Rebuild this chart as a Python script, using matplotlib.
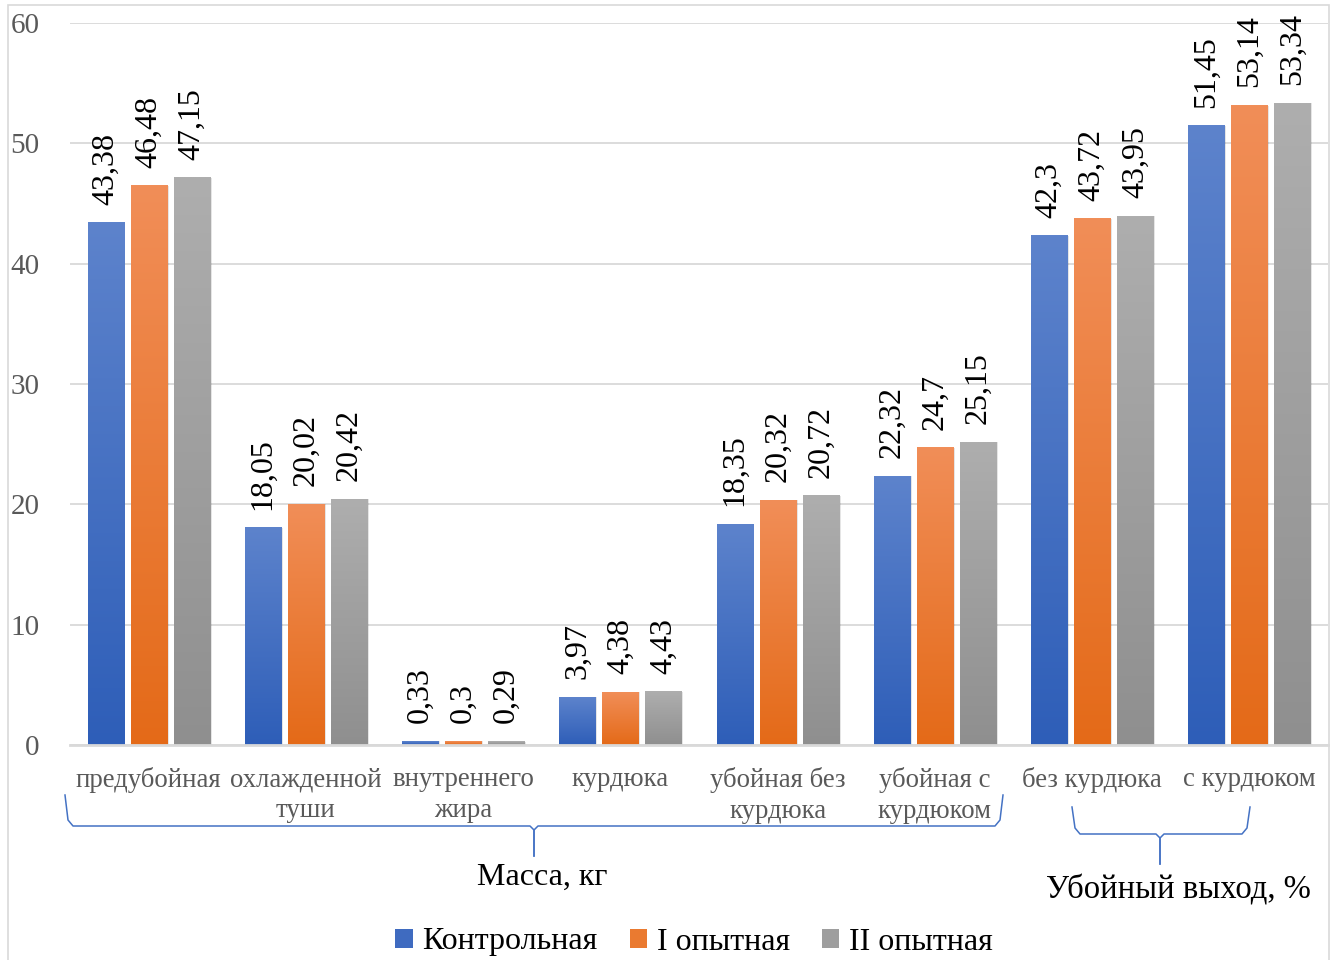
import numpy as np
import matplotlib
matplotlib.use("Agg")
import matplotlib.pyplot as plt
from matplotlib.patches import Patch, Rectangle
from matplotlib.lines import Line2D
from matplotlib.colors import LinearSegmentedColormap

plt.rcParams['font.family'] = ['Liberation Serif', 'DejaVu Serif']

categories = ["предубойная", "охлажденной\nтуши", "внутреннего\nжира", "курдюка",
              "убойная без\nкурдюка", "убойная с\nкурдюком", "без курдюка", "с курдюком"]
series_names = ["Контрольная", "I опытная", "II опытная"]
control = [43.38, 18.05, 0.33, 3.97, 18.35, 22.32, 42.3, 51.45]
exp1 = [46.48, 20.02, 0.3, 4.38, 20.32, 24.7, 43.72, 53.14]
exp2 = [47.15, 20.42, 0.29, 4.43, 20.72, 25.15, 43.95, 53.34]
group_labels = ["Масса, кг", "Убойный выход, %"]
yticks = [0, 10, 20, 30, 40, 50, 60]

top_colors = ["#5D83CC", "#F18E58", "#AEAEAE"]
bot_colors = ["#2E5EB8", "#E46A18", "#8F8F8F"]

W, H = 1336, 960
fig = plt.figure(figsize=(W / 100, H / 100), dpi=100)

def fx(px):
    return px / W

def fy(py):
    return 1 - py / H

ax = fig.add_axes([fx(70), fy(745), fx(1328) - fx(70), fy(23) - fy(745)])

x = np.arange(len(categories))
bw = 0.229
step = 0.274
all_series = [control, exp1, exp2]
grad = np.linspace(0, 1, 256).reshape(-1, 1)
for i, vals in enumerate(all_series):
    bars = ax.bar(x + (i - 1) * step, vals, width=bw, color=top_colors[i], zorder=2)
    cmap = LinearSegmentedColormap.from_list("g%d" % i, [bot_colors[i], top_colors[i]])
    for b, v in zip(bars, vals):
        bx, by = b.get_x(), b.get_y()
        bwid, bh = b.get_width(), b.get_height()
        # shadow
        ax.add_patch(Rectangle((bx + 0.012, by), bwid, bh, facecolor="#000000",
                               alpha=0.10, edgecolor="none", zorder=1.5))
        ax.imshow(grad, extent=[bx, bx + bwid, by, by + bh], origin="lower",
                  aspect="auto", cmap=cmap, zorder=2.5)
        ax.annotate(f"{v:g}".replace(".", ","), (bx + bwid / 2, by + bh),
                    xytext=(0, 13), textcoords="offset points", rotation=90,
                    ha="center", va="bottom", fontsize=23, color="#000000",
                    annotation_clip=False)

ax.set_xlim(-0.5, len(categories) - 0.5)
ax.set_ylim(0, 60)
ax.set_yticks(yticks)
ax.set_yticklabels([str(t) for t in yticks], fontsize=21, color="#595959")
ax.set_xticks(x)
ax.set_xticklabels(categories, fontsize=19.3, color="#595959", linespacing=1.3)
ax.tick_params(axis="both", length=0)
ax.tick_params(axis="y", pad=22)
ax.tick_params(axis="x", pad=16)
ax.grid(axis="y", color="#D9D9D9", linewidth=1.3, zorder=0)
ax.set_axisbelow(True)
for s in ["left", "right", "top"]:
    ax.spines[s].set_visible(False)
ax.spines["bottom"].set_color("#D9D9D9")
ax.spines["bottom"].set_linewidth(2)
ax.spines["bottom"].set_zorder(3)

# chart border
fig.add_artist(Rectangle((fx(8), fy(962)), fx(1329) - fx(8), fy(5) - fy(962),
                         transform=fig.transFigure, facecolor="none",
                         edgecolor="#D9D9D9", linewidth=1.2))

# braces
bcol = "#4472C4"
def brace(x0, x1, xm, ytop, ybar, ytip):
    xs = [x0, x0 + 3, x0 + 8, xm - 4, xm, xm, xm, xm + 4, x1 - 8, x1 - 3, x1]
    ys = [ytop, ybar - 6, ybar, ybar, ybar + 4, ytip, ybar + 4, ybar, ybar, ybar - 6, ytop]
    fig.add_artist(Line2D([fx(v) for v in xs[:6]], [fy(v) for v in ys[:6]],
                          color=bcol, linewidth=1.1, transform=fig.transFigure))
    fig.add_artist(Line2D([fx(v) for v in xs[5:]], [fy(v) for v in ys[5:]],
                          color=bcol, linewidth=1.1, transform=fig.transFigure))

brace(65, 1003, 534, 795, 826, 856)
brace(1072, 1250, 1160, 807, 834, 864)

fig.text(fx(542), fy(877), group_labels[0], fontsize=23, ha="center", va="center", color="#000000")
fig.text(fx(1178), fy(890), group_labels[1], fontsize=23.5, ha="center", va="center", color="#000000")

handles = [Patch(facecolor=c, edgecolor="none") for c in ["#3F6BC0", "#EA7A30", "#9E9E9E"]]
fig.legend(handles, series_names, loc="center", bbox_to_anchor=(fx(694), fy(942)),
           ncol=3, frameon=False, fontsize=23, handlelength=0.55, handleheight=0.55,
           handletextpad=0.3, columnspacing=1.0, borderaxespad=0)

fig.savefig("out.png", dpi=100)
